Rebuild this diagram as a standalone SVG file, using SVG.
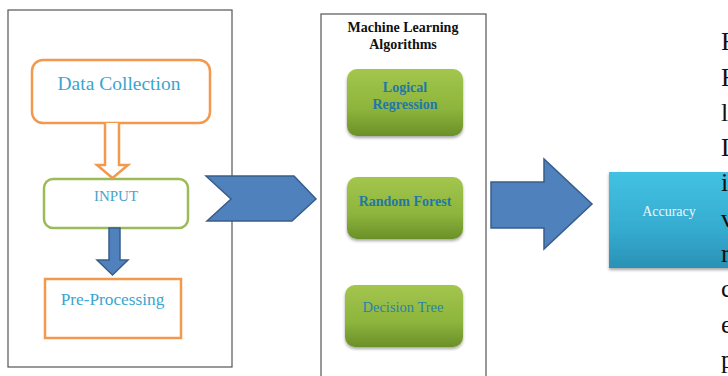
<svg xmlns="http://www.w3.org/2000/svg" width="728" height="376" viewBox="0 0 728 376">
<defs>
<style>
.panel{fill:#fff;stroke:#555;stroke-width:1.2}
.orange{fill:#fff;stroke:#F2994E;stroke-width:2.5}
.green{fill:#fff;stroke:#9BBB59;stroke-width:2.5}
.blue{fill:#4F81BD;stroke:#385D8A;stroke-width:1.5}
.t{font-family:"Liberation Serif","Times New Roman",serif;text-anchor:middle}
.lt{fill:#3AA5CF}
.alg{fill:url(#gg);filter:url(#sh)}
.algt{font-family:"Liberation Serif","Times New Roman",serif;text-anchor:middle;fill:#1F78A6;font-size:14px;font-weight:bold}
.side{font-family:"Liberation Serif","Times New Roman",serif;font-size:26px;fill:#111}
</style>
<linearGradient id="gg" x1="0" y1="0" x2="0" y2="1">
<stop offset="0" stop-color="#A3C64D"/>
<stop offset="0.6" stop-color="#8DB43C"/>
<stop offset="1" stop-color="#6A9028"/>
</linearGradient>
<linearGradient id="cg" x1="0" y1="0" x2="0" y2="1">
<stop offset="0" stop-color="#42C2E2"/>
<stop offset="0.6" stop-color="#35ABD0"/>
<stop offset="1" stop-color="#2A91B5"/>
</linearGradient>
<filter id="sh" x="-10%" y="-10%" width="125%" height="130%">
<feDropShadow dx="0" dy="2" stdDeviation="1.5" flood-color="#000" flood-opacity="0.35"/>
</filter>
</defs>

<g id="panel-left"><rect class="panel" x="8" y="10" width="224" height="357"/></g>
<g id="panel-middle"><rect class="panel" x="321" y="14" width="165" height="370"/></g>

<g id="data-collection">
<rect class="orange" x="32" y="60" width="178" height="63" rx="11"/>
<text class="t lt" x="119" y="90" font-size="19.5">Data Collection</text>
</g>
<g id="input">
<rect class="green" x="44" y="179" width="144" height="49" rx="9"/>
<text class="t" x="116" y="201" font-size="15" fill="#4AA3C8">INPUT</text>
</g>
<g id="pre-processing">
<rect class="orange" x="45" y="279" width="136" height="59"/>
<text class="t lt" x="112.5" y="305" font-size="17.3">Pre-Processing</text>
</g>

<g id="ml-header">
<text class="t" x="403" y="32" font-size="14" font-weight="bold" fill="#111">Machine Learning</text>
<text class="t" x="403" y="49" font-size="14" font-weight="bold" fill="#111">Algorithms</text>
</g>
<g id="logical-regression">
<rect class="alg" x="347" y="69" width="116" height="67" rx="10"/>
<text class="algt" x="405" y="92">Logical</text>
<text class="algt" x="405" y="109">Regression</text>
</g>
<g id="random-forest">
<rect class="alg" x="347" y="177" width="116" height="62" rx="10"/>
<text class="algt" x="405" y="206">Random Forest</text>
</g>
<g id="decision-tree">
<rect class="alg" x="345" y="285" width="118" height="62" rx="10"/>
<text class="algt" x="403" y="312" style="font-weight:normal;font-size:14.5px;fill:#2A82AA">Decision Tree</text>
</g>

<g id="accuracy">
<rect x="609" y="172" width="125" height="96" fill="url(#cg)" filter="url(#sh)"/>
<text class="t" x="669" y="216" font-size="14" fill="#EAF7FB">Accuracy</text>
</g>

<g id="connectors">
<path class="orange" d="M105,123 V165 H97 L112.5,178 L128,165 H119 V123"/>
<path class="blue" d="M109,228 V260 H97 L112.5,275 L128,260 H120 V228 Z"/>
<path class="blue" d="M206,176 H294 L316,199 L292,221 H207 L231,199 Z"/>
<path class="blue" d="M491,182 H544 V159 L592,204 L544,249 V228 H491 Z"/>
</g>

<g id="side-text" class="side">
<text x="721" y="50">F</text>
<text x="721" y="86">F</text>
<text x="721" y="121">l</text>
<text x="721" y="156">D</text>
<text x="721" y="191">i</text>
<text x="721" y="227">v</text>
<text x="721" y="262">r</text>
<text x="721" y="297">c</text>
<text x="721" y="333">e</text>
<text x="721" y="368">p</text>
</g>
</svg>
